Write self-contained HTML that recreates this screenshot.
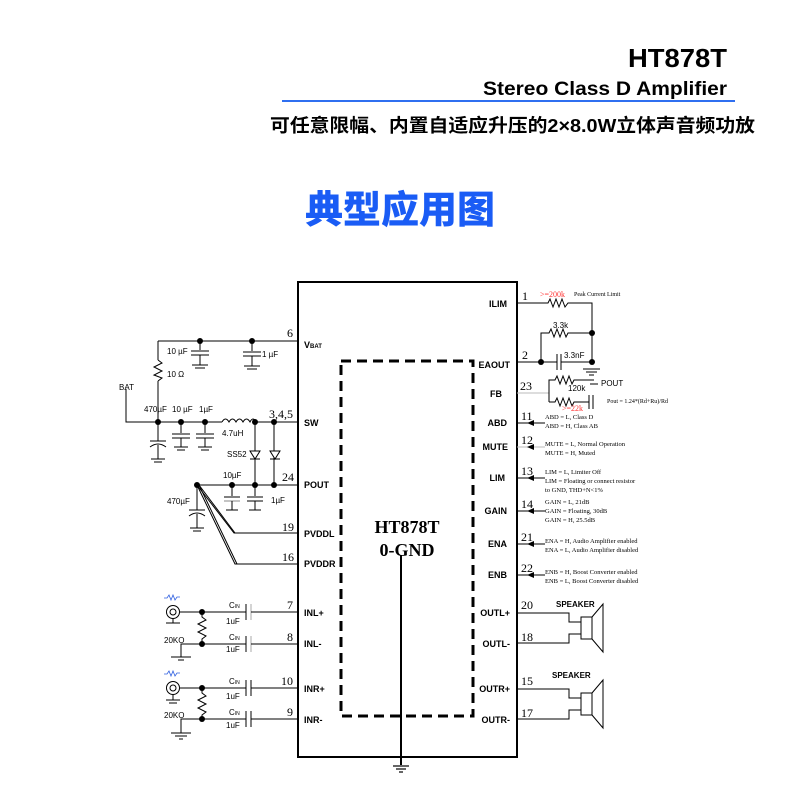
<!DOCTYPE html>
<html><head><meta charset="utf-8"><style>
html,body{margin:0;padding:0;background:#fff;width:800px;height:800px;overflow:hidden}
svg{display:block}
.b{font-family:"Liberation Sans",sans-serif;font-weight:bold}
.s{font-family:"Liberation Serif",serif}
.a{font-family:"Liberation Sans",sans-serif}
</style></head><body>
<svg width="800" height="800" viewBox="0 0 800 800" xmlns="http://www.w3.org/2000/svg">
<text x="628" y="67" textLength="99" lengthAdjust="spacingAndGlyphs" class="b" font-size="26">HT878T</text>
<text x="483" y="95" textLength="244" lengthAdjust="spacingAndGlyphs" class="b" font-size="19">Stereo Class D Amplifier</text>
<line x1="282" y1="101" x2="735" y2="101" stroke="#2f6ff0" stroke-width="2"/>
<text x="270" y="132" textLength="485" lengthAdjust="spacingAndGlyphs" font-family="'Liberation Sans','Noto Sans CJK SC',sans-serif" font-weight="bold" font-size="18.5">可任意限幅、内置自适应升压的2×8.0W立体声音频功放</text>
<text x="400" y="223" text-anchor="middle" font-family="'Liberation Sans','Noto Sans CJK SC',sans-serif" font-weight="900" font-size="38" fill="#1a5cf5">典型应用图</text>

<g stroke="#000" fill="none" stroke-width="1.2">
<rect x="298" y="282" width="219" height="475" stroke-width="2"/>
<rect x="341" y="361" width="132" height="355" stroke-width="3" stroke-dasharray="10,6"/>
<line x1="401" y1="555" x2="401" y2="765" stroke-width="2"/>
<line x1="393" y1="766" x2="409" y2="766"/><line x1="396" y1="769" x2="406" y2="769"/><line x1="399" y1="772" x2="403" y2="772"/>
</g>
<text x="407" y="533" text-anchor="middle" class="s" font-weight="bold" font-size="18">HT878T</text>
<text x="407" y="556" text-anchor="middle" class="s" font-weight="bold" font-size="18">0-GND</text>

<g class="b" font-size="9">
<text x="304" y="348">V<tspan font-size="6">BAT</tspan></text>
<text x="304" y="426">SW</text><text x="304" y="488">POUT</text>
<text x="304" y="537">PVDDL</text><text x="304" y="567">PVDDR</text>
<text x="304" y="616">INL+</text><text x="304" y="647">INL-</text>
<text x="304" y="692">INR+</text><text x="304" y="723">INR-</text>
</g>
<g class="b" font-size="9" text-anchor="end">
<text x="507" y="307">ILIM</text><text x="510" y="368">EAOUT</text><text x="502" y="397">FB</text>
<text x="507" y="426">ABD</text><text x="508" y="450">MUTE</text><text x="505" y="481">LIM</text>
<text x="507" y="514">GAIN</text><text x="507" y="547">ENA</text><text x="507" y="578">ENB</text>
<text x="510" y="616">OUTL+</text><text x="510" y="647">OUTL-</text>
<text x="510" y="692">OUTR+</text><text x="510" y="723">OUTR-</text>
</g>

<g stroke="#000" fill="none" stroke-width="1">
<polyline points="517,303 548,303 550,299 553,307 556,299 559,307 562,299 565,307 568,303 592,303 592,362"/>
<polyline points="541,362 541,333 549,333 551,329 554,337 557,329 560,337 563,329 566,337 568,333 592,333"/>
<line x1="517" y1="362" x2="557" y2="362"/><line x1="557" y1="354" x2="557" y2="370"/><line x1="561" y1="354" x2="561" y2="370"/><line x1="561" y1="362" x2="592" y2="362"/>
<line x1="583" y1="369" x2="600" y2="369"/><line x1="586" y1="372" x2="597" y2="372"/><line x1="589" y1="375" x2="594" y2="375"/>
<line x1="517" y1="393" x2="549" y2="393" stroke="#bbb"/>
<polyline points="549,402 549,380 555,380 557,376 560,384 563,376 566,384 569,376 572,384 574,380 594,380"/>
<line x1="590" y1="384" x2="598" y2="384"/>
<polyline points="549,402 555,402 557,398 560,406 563,398 566,406 569,398 572,406 574,402 589,402"/>
<line x1="589" y1="395" x2="589" y2="409"/><line x1="593" y1="395" x2="593" y2="409"/>
</g>
<g fill="#000"><circle cx="592" cy="333" r="3"/><circle cx="541" cy="362" r="3"/><circle cx="592" cy="362" r="3"/></g>
<g class="s" font-size="12"><text x="522" y="300">1</text><text x="522" y="359">2</text><text x="520" y="390">23</text>
<text x="521" y="420">11</text><text x="521" y="444">12</text><text x="521" y="475">13</text><text x="521" y="508">14</text><text x="521" y="541">21</text><text x="521" y="572">22</text>
<text x="521" y="609">20</text><text x="521" y="641">18</text><text x="521" y="685">15</text><text x="521" y="717">17</text></g>
<text x="540" y="297" class="s" font-size="8" fill="#f33">&gt;=200k</text><text x="574" y="296" class="s" font-size="6">Peak Current Limit</text>
<text x="553" y="328" class="a" font-size="8">3.3k</text><text x="564" y="358" class="a" font-size="8">3.3nF</text>
<text x="601" y="386" class="a" font-size="8">POUT</text><text x="568" y="391" class="a" font-size="8">120k</text>
<text x="562" y="411" class="s" font-size="8" fill="#f33">&gt;=22k</text><text x="607" y="403" class="s" font-size="6">Pout = 1.24*(Rd+Ru)/Rd</text>

<g stroke="#000" stroke-width="1">
<line x1="517" y1="423" x2="545" y2="423"/><line x1="517" y1="447" x2="545" y2="447" stroke="#bbb"/><line x1="517" y1="478" x2="545" y2="478"/>
<line x1="517" y1="511" x2="545" y2="511"/><line x1="517" y1="544" x2="545" y2="544"/><line x1="517" y1="575" x2="545" y2="575"/>
</g>
<g fill="#000"><path d="M527 423l7-3v6z"/><path d="M527 447l7-3v6z"/><path d="M527 478l7-3v6z"/><path d="M527 511l7-3v6z"/><path d="M527 544l7-3v6z"/><path d="M527 575l7-3v6z"/></g>
<g class="s" font-size="6.5">
<text x="545" y="419">ABD = L, Class D</text><text x="545" y="428">ABD = H, Class AB</text>
<text x="545" y="446">MUTE = L, Normal Operation</text><text x="545" y="455">MUTE = H,  Muted</text>
<text x="545" y="474">LIM = L, Limiter Off</text><text x="545" y="483">LIM = Floating or connect resistor</text><text x="545" y="492">to GND, THD+N&lt;1%</text>
<text x="545" y="504">GAIN = L, 21dB</text><text x="545" y="513">GAIN = Floating, 30dB</text><text x="545" y="522">GAIN = H, 25.5dB</text>
<text x="545" y="543">ENA = H, Audio Amplifier enabled</text><text x="545" y="552">ENA = L, Audio Amplifier disabled</text>
<text x="545" y="574">ENB = H, Boost Converter enabled</text><text x="545" y="583">ENB = L, Boost Converter disabled</text>
</g>

<g stroke="#000" fill="none" stroke-width="1">
<polyline points="517,613 569,613 569,622 581,622"/><polyline points="517,643 569,643 569,634 581,634"/>
<rect x="581" y="617" width="11" height="22"/><polyline points="592,617 603,604 603,652 592,639"/>
<polyline points="517,689 569,689 569,698 581,698"/><polyline points="517,719 569,719 569,710 581,710"/>
<rect x="581" y="693" width="11" height="22"/><polyline points="592,693 603,680 603,728 592,715"/>
</g>
<text x="556" y="607" class="b" font-size="8">SPEAKER</text><text x="552" y="678" class="b" font-size="8">SPEAKER</text>

<g stroke="#000" fill="none" stroke-width="1">
<line x1="158" y1="341" x2="298" y2="341"/>
<line x1="158" y1="341" x2="158" y2="360"/><polyline points="158,360 162,363 154,367 162,371 154,375 162,378 158,381"/><line x1="158" y1="381" x2="158" y2="422"/>
<line x1="200" y1="341" x2="200" y2="350"/><line x1="191" y1="351" x2="209" y2="351"/><line x1="191" y1="355" x2="209" y2="355"/><line x1="200" y1="355" x2="200" y2="365"/><line x1="192" y1="365" x2="208" y2="365"/><line x1="195" y1="368" x2="205" y2="368"/>
<line x1="252" y1="341" x2="252" y2="351"/><line x1="243" y1="352" x2="261" y2="352"/><line x1="243" y1="356" x2="261" y2="356"/><line x1="252" y1="356" x2="252" y2="366"/><line x1="244" y1="366" x2="260" y2="366"/><line x1="247" y1="369" x2="257" y2="369"/>
<polyline points="126,389 126,422 222,422"/>
<path d="M222 422 q3.5 -6 7 0 q3.5 -6 7 0 q3.5 -6 7 0 q3.5 -6 7 0 q3 -6 6 0"/>
<line x1="255" y1="422" x2="298" y2="422"/>
<line x1="158" y1="422" x2="158" y2="441"/><line x1="150" y1="441" x2="166" y2="441"/><path d="M150 447 q8 -6 16 0"/><line x1="158" y1="445" x2="158" y2="459"/><line x1="151" y1="459" x2="165" y2="459"/><line x1="154" y1="462" x2="162" y2="462"/>
<line x1="181" y1="422" x2="181" y2="433"/><line x1="172" y1="434" x2="190" y2="434"/><line x1="172" y1="438" x2="190" y2="438"/><line x1="181" y1="438" x2="181" y2="447"/><line x1="174" y1="447" x2="188" y2="447"/><line x1="177" y1="450" x2="185" y2="450"/>
<line x1="205" y1="422" x2="205" y2="433"/><line x1="196" y1="434" x2="214" y2="434"/><line x1="196" y1="438" x2="214" y2="438"/><line x1="205" y1="438" x2="205" y2="447"/><line x1="198" y1="447" x2="212" y2="447"/><line x1="201" y1="450" x2="209" y2="450"/>
<line x1="255" y1="422" x2="255" y2="485"/><line x1="274" y1="422" x2="274" y2="485"/>
<path d="M250 451h10l-5 8z M270 451h10l-5 8z" fill="#fff"/><line x1="250" y1="459" x2="260" y2="459"/><line x1="270" y1="459" x2="280" y2="459"/>
<line x1="197" y1="485" x2="298" y2="485"/>
<line x1="197" y1="485" x2="197" y2="510"/><line x1="189" y1="510" x2="205" y2="510"/><path d="M189 516 q8 -6 16 0"/><line x1="197" y1="514" x2="197" y2="528"/><line x1="190" y1="528" x2="204" y2="528"/><line x1="193" y1="531" x2="201" y2="531"/>
<line x1="232" y1="485" x2="232" y2="496"/><line x1="224" y1="497" x2="240" y2="497"/><line x1="224" y1="501" x2="240" y2="501" stroke="#888"/><line x1="232" y1="501" x2="232" y2="510"/><line x1="226" y1="510" x2="238" y2="510"/>
<line x1="255" y1="485" x2="255" y2="496"/><line x1="247" y1="497" x2="263" y2="497"/><line x1="247" y1="501" x2="263" y2="501"/><line x1="255" y1="501" x2="255" y2="510"/><line x1="249" y1="510" x2="261" y2="510"/>
<polyline points="197,485 234,533 298,533"/><polyline points="197,485 235,564 298,564"/>
<polyline points="199,485 235,533"/><polyline points="199,485 237,564"/>
</g>
<g fill="#000"><circle cx="200" cy="341" r="3"/><circle cx="252" cy="341" r="3"/><circle cx="158" cy="422" r="3"/><circle cx="181" cy="422" r="3"/><circle cx="205" cy="422" r="3"/><circle cx="255" cy="422" r="3"/><circle cx="274" cy="422" r="3"/>
<circle cx="197" cy="485" r="3"/><circle cx="232" cy="485" r="3"/><circle cx="255" cy="485" r="3"/><circle cx="274" cy="485" r="3"/></g>
<g class="s" font-size="12"><text x="287" y="337">6</text><text x="269" y="418">3,4,5</text><text x="282" y="481">24</text><text x="282" y="531">19</text><text x="282" y="561">16</text>
<text x="287" y="609">7</text><text x="287" y="641">8</text><text x="281" y="685">10</text><text x="287" y="716">9</text></g>
<g class="a" font-size="8">
<text x="167" y="354">10 µF</text><text x="262" y="357">1 µF</text><text x="167" y="377">10 Ω</text>
<text x="119" y="390">BAT</text><text x="144" y="412">470µF</text><text x="172" y="412">10 µF</text><text x="199" y="412">1µF</text>
<text x="222" y="436">4.7uH</text><text x="227" y="457">SS52</text>
<text x="223" y="478">10µF</text><text x="167" y="504">470µF</text><text x="271" y="503">1µF</text>
</g>

<g stroke="#000" fill="none" stroke-width="1">
<circle cx="173" cy="612" r="6.5"/><circle cx="173" cy="612" r="3"/>
<line x1="173" y1="619" x2="173" y2="623"/><line x1="166" y1="623" x2="180" y2="623"/>
<line x1="180" y1="612" x2="246" y2="612"/><line x1="246" y1="604" x2="246" y2="620"/><line x1="251" y1="604" x2="251" y2="620" stroke="#aaa"/><line x1="251" y1="612" x2="298" y2="612"/>
<polyline points="202,612 202,617 206,620 198,624 206,628 198,632 206,636 202,639 202,644"/>
<polyline points="181,657 181,644 246,644"/><line x1="246" y1="636" x2="246" y2="652"/><line x1="251" y1="636" x2="251" y2="652" stroke="#aaa"/><line x1="251" y1="644" x2="298" y2="644"/>
<line x1="171" y1="657" x2="191" y2="657"/><line x1="178" y1="660" x2="184" y2="660"/>
<circle cx="173" cy="688" r="6.5"/><circle cx="173" cy="688" r="3"/>
<line x1="173" y1="695" x2="173" y2="700"/><line x1="166" y1="700" x2="180" y2="700"/><line x1="169" y1="703" x2="177" y2="703"/>
<line x1="180" y1="688" x2="246" y2="688"/><line x1="246" y1="680" x2="246" y2="696"/><line x1="251" y1="680" x2="251" y2="696"/><line x1="251" y1="688" x2="298" y2="688"/>
<polyline points="202,688 202,693 206,696 198,700 206,704 198,708 206,712 202,715 202,719"/>
<polyline points="181,733 181,719 246,719"/><line x1="246" y1="711" x2="246" y2="727"/><line x1="251" y1="711" x2="251" y2="727"/><line x1="251" y1="719" x2="298" y2="719"/>
<line x1="171" y1="733" x2="191" y2="733"/><line x1="175" y1="736" x2="187" y2="736"/><line x1="179" y1="739" x2="183" y2="739"/>
</g>
<g stroke="#3060e0" fill="none" stroke-width="0.8"><path d="M164 598h3l2-3 2 5 2-5 2 5 2-3h3"/><path d="M164 674h3l2-3 2 5 2-5 2 5 2-3h3"/></g>
<g fill="#000"><circle cx="202" cy="612" r="3"/><circle cx="202" cy="644" r="3"/><circle cx="202" cy="688" r="3"/><circle cx="202" cy="719" r="3"/></g>
<g class="a" font-size="8">
<text x="229" y="608">C<tspan font-size="5">IN</tspan></text><text x="226" y="624">1uF</text>
<text x="229" y="640">C<tspan font-size="5">IN</tspan></text><text x="226" y="652">1uF</text>
<text x="229" y="684">C<tspan font-size="5">IN</tspan></text><text x="226" y="699">1uF</text>
<text x="229" y="715">C<tspan font-size="5">IN</tspan></text><text x="226" y="728">1uF</text>
<text x="164" y="643">20KO</text><text x="164" y="718">20KO</text>
</g>
</svg>
</body></html>
